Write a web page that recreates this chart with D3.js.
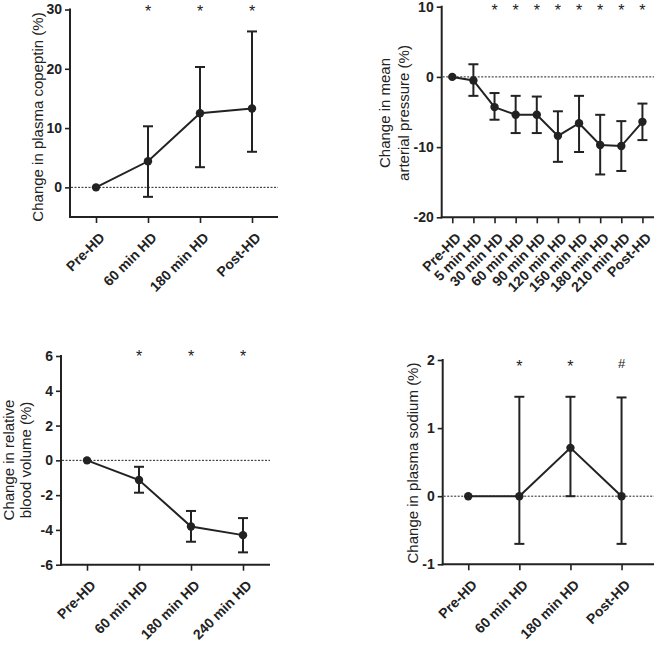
<!DOCTYPE html>
<html>
<head>
<meta charset="utf-8">
<script src="https://cdn.jsdelivr.net/npm/d3@7"></script>
<style>
  html, body { margin: 0; padding: 0; background: #fff; }
  svg { display: block; font-family: "Liberation Sans", Arial, Helvetica, sans-serif; }
</style>
</head>
<body>
<svg id="chart" width="654" height="646"></svg>
<script>
// ---------------- DATA ----------------
const copeptinCats = ["Pre-HD", "60 min HD", "180 min HD", "Post-HD"];
const copeptinMean = [0, 4.4, 12.5, 13.3];
const copeptinLow  = [0, -1.6, 3.4, 6.0];
const copeptinHigh = [0, 10.3, 20.3, 26.3];
const copeptinSig  = ["", "*", "*", "*"];
const copeptinTicks = [0, 10, 20, 30];

const mapCats = ["Pre-HD", "5 min HD", "30 min HD", "60 min HD", "90 min HD", "120 min HD", "150 min HD", "180 min HD", "210 min HD", "Post-HD"];
const mapMean = [0, -0.5, -4.3, -5.4, -5.4, -8.4, -6.6, -9.7, -9.85, -6.4];
const mapLow  = [0, -2.7, -6.1, -8.0, -8.0, -12.1, -10.7, -13.9, -13.4, -9.0];
const mapHigh = [0, 1.8, -2.3, -2.7, -2.8, -4.9, -2.7, -5.4, -6.3, -3.8];
const mapSig  = ["", "", "*", "*", "*", "*", "*", "*", "*", "*"];
const mapTicks = [-20, -10, 0, 10];

const bvCats = ["Pre-HD", "60 min HD", "180 min HD", "240 min HD"];
const bvMean = [0, -1.13, -3.8, -4.3];
const bvLow  = [0, -1.86, -4.68, -5.29];
const bvHigh = [0, -0.37, -2.91, -3.32];
const bvSig  = ["", "*", "*", "*"];
const bvTicks = [-6, -4, -2, 0, 2, 4, 6];

const naCats = ["Pre-HD", "60 min HD", "180 min HD", "Post-HD"];
const naMean = [0, 0, 0.71, 0];
const naLow  = [0, -0.7, 0, -0.7];
const naHigh = [0, 1.46, 1.46, 1.45];
const naSig  = ["", "*", "*", "#"];
const naTicks = [-1, 0, 1, 2];

// ---------------- LAYOUT ----------------
const INK = "#222";
const svg = d3.select("#chart");

const panels = [
  { cats: copeptinCats, mean: copeptinMean, low: copeptinLow, high: copeptinHigh, sig: copeptinSig, ticks: copeptinTicks,
    domain: [-5, 30], left: 70, right: 278, pointEnd: 278, top: 9.5, bottom: 217, sigY: 8,
    title: ["Change in plasma copeptin (%)"], titleX: [37], titleY: 117 },
  { cats: mapCats, mean: mapMean, low: mapLow, high: mapHigh, sig: mapSig, ticks: mapTicks,
    domain: [-20, 10], left: 441.7, right: 654, pointEnd: 653, top: 6.7, bottom: 217.3, sigY: 7,
    title: ["Change in mean", "arterial pressure (%)"], titleX: [384, 403], titleY: 113 },
  { cats: bvCats, mean: bvMean, low: bvLow, high: bvHigh, sig: bvSig, ticks: bvTicks,
    domain: [-6, 6], left: 61, right: 270, pointEnd: 269, top: 356, bottom: 564.7, sigY: 353,
    title: ["Change in relative", "blood volume (%)"], titleX: [8.5, 25.5], titleY: 460 },
  { cats: naCats, mean: naMean, low: naLow, high: naHigh, sig: naSig, ticks: naTicks,
    domain: [-1, 2], left: 442.7, right: 654, pointEnd: 647.1, top: 360, bottom: 564.3, sigY: 363,
    title: ["Change in plasma sodium (%)"], titleX: [412], titleY: 463 }
];

panels.forEach(p => {
  const g = svg.append("g");
  const y = d3.scaleLinear().domain(p.domain).range([p.bottom, p.top]);
  const x = d3.scalePoint().domain(p.cats).range([p.left, p.pointEnd]).padding(0.5);

  // Y axis
  const yAxis = g.append("g")
    .attr("transform", `translate(${p.left},0)`)
    .call(d3.axisLeft(y).tickValues(p.ticks).tickSize(5).tickSizeOuter(0).tickPadding(3).tickFormat(d => String(d)));
  yAxis.select(".domain").remove();
  yAxis.append("line").attr("x1", 0).attr("x2", 0).attr("y1", y(p.ticks[p.ticks.length - 1]) - 1).attr("y2", p.bottom + 1)
    .attr("stroke", INK).attr("stroke-width", 2);
  yAxis.selectAll(".tick line").attr("stroke", INK).attr("stroke-width", 1.6);
  yAxis.selectAll(".tick text").attr("fill", INK).attr("font-size", 14).attr("font-weight", "bold")
    .attr("font-family", "'Liberation Sans', Arial, sans-serif");

  // X axis
  const xAxis = g.append("g")
    .attr("transform", `translate(0,${p.bottom})`)
    .call(d3.axisBottom(x).tickSize(6).tickSizeOuter(0).tickFormat(""));
  xAxis.select(".domain").remove();
  xAxis.append("line").attr("x1", p.left - 1).attr("x2", p.right).attr("y1", 0).attr("y2", 0)
    .attr("stroke", INK).attr("stroke-width", 2);
  xAxis.selectAll(".tick line").attr("stroke", INK).attr("stroke-width", 1.6);

  // rotated category labels
  g.selectAll("text.xlab").data(p.cats).join("text")
    .attr("class", "xlab")
    .attr("transform", d => `translate(${x(d) + 7},${p.bottom + 19}) rotate(-45)`)
    .attr("text-anchor", "end")
    .attr("dominant-baseline", "middle")
    .attr("font-size", 14).attr("font-weight", "bold").attr("fill", INK)
    .text(d => d);

  // zero dotted line
  g.append("line")
    .attr("x1", p.left + 1).attr("x2", p.right)
    .attr("y1", y(0)).attr("y2", y(0))
    .attr("stroke", INK).attr("stroke-width", 1).attr("stroke-dasharray", "2,1.5");

  // error bars
  const idx = d3.range(p.cats.length).filter(i => p.high[i] !== p.low[i]);
  const eb = g.selectAll("g.eb").data(idx).join("g").attr("class", "eb")
    .attr("stroke", INK).attr("stroke-width", 2);
  eb.append("line").attr("x1", i => x(p.cats[i])).attr("x2", i => x(p.cats[i]))
    .attr("y1", i => y(p.low[i])).attr("y2", i => y(p.high[i]));
  eb.append("line").attr("x1", i => x(p.cats[i]) - 5).attr("x2", i => x(p.cats[i]) + 5)
    .attr("y1", i => y(p.low[i])).attr("y2", i => y(p.low[i]));
  eb.append("line").attr("x1", i => x(p.cats[i]) - 5).attr("x2", i => x(p.cats[i]) + 5)
    .attr("y1", i => y(p.high[i])).attr("y2", i => y(p.high[i]));

  // connecting line
  const line = d3.line().x((d, i) => x(p.cats[i])).y(d => y(d));
  g.append("path").datum(p.mean).attr("d", line)
    .attr("fill", "none").attr("stroke", INK).attr("stroke-width", 2);

  // markers
  g.selectAll("circle").data(p.mean).join("circle")
    .attr("cx", (d, i) => x(p.cats[i])).attr("cy", d => y(d)).attr("r", 4.2)
    .attr("fill", INK);

  // significance marks
  g.selectAll("text.sig").data(p.cats).join("text")
    .attr("class", "sig")
    .attr("x", d => x(d))
    .attr("y", (d, i) => p.sig[i] === "#" ? p.sigY + 5 : p.sigY + 9)
    .attr("text-anchor", "middle")
    .attr("font-size", (d, i) => p.sig[i] === "#" ? 13 : 16)
    .attr("fill", INK)
    .text((d, i) => p.sig[i]);

  // y title
  p.title.forEach((t, k) => {
    g.append("text")
      .attr("transform", `translate(${p.titleX[k]},${p.titleY}) rotate(-90)`)
      .attr("text-anchor", "middle")
      .attr("dominant-baseline", "central")
      .attr("font-size", 15).attr("fill", INK)
      .text(t);
  });
});
</script>
</body>
</html>
